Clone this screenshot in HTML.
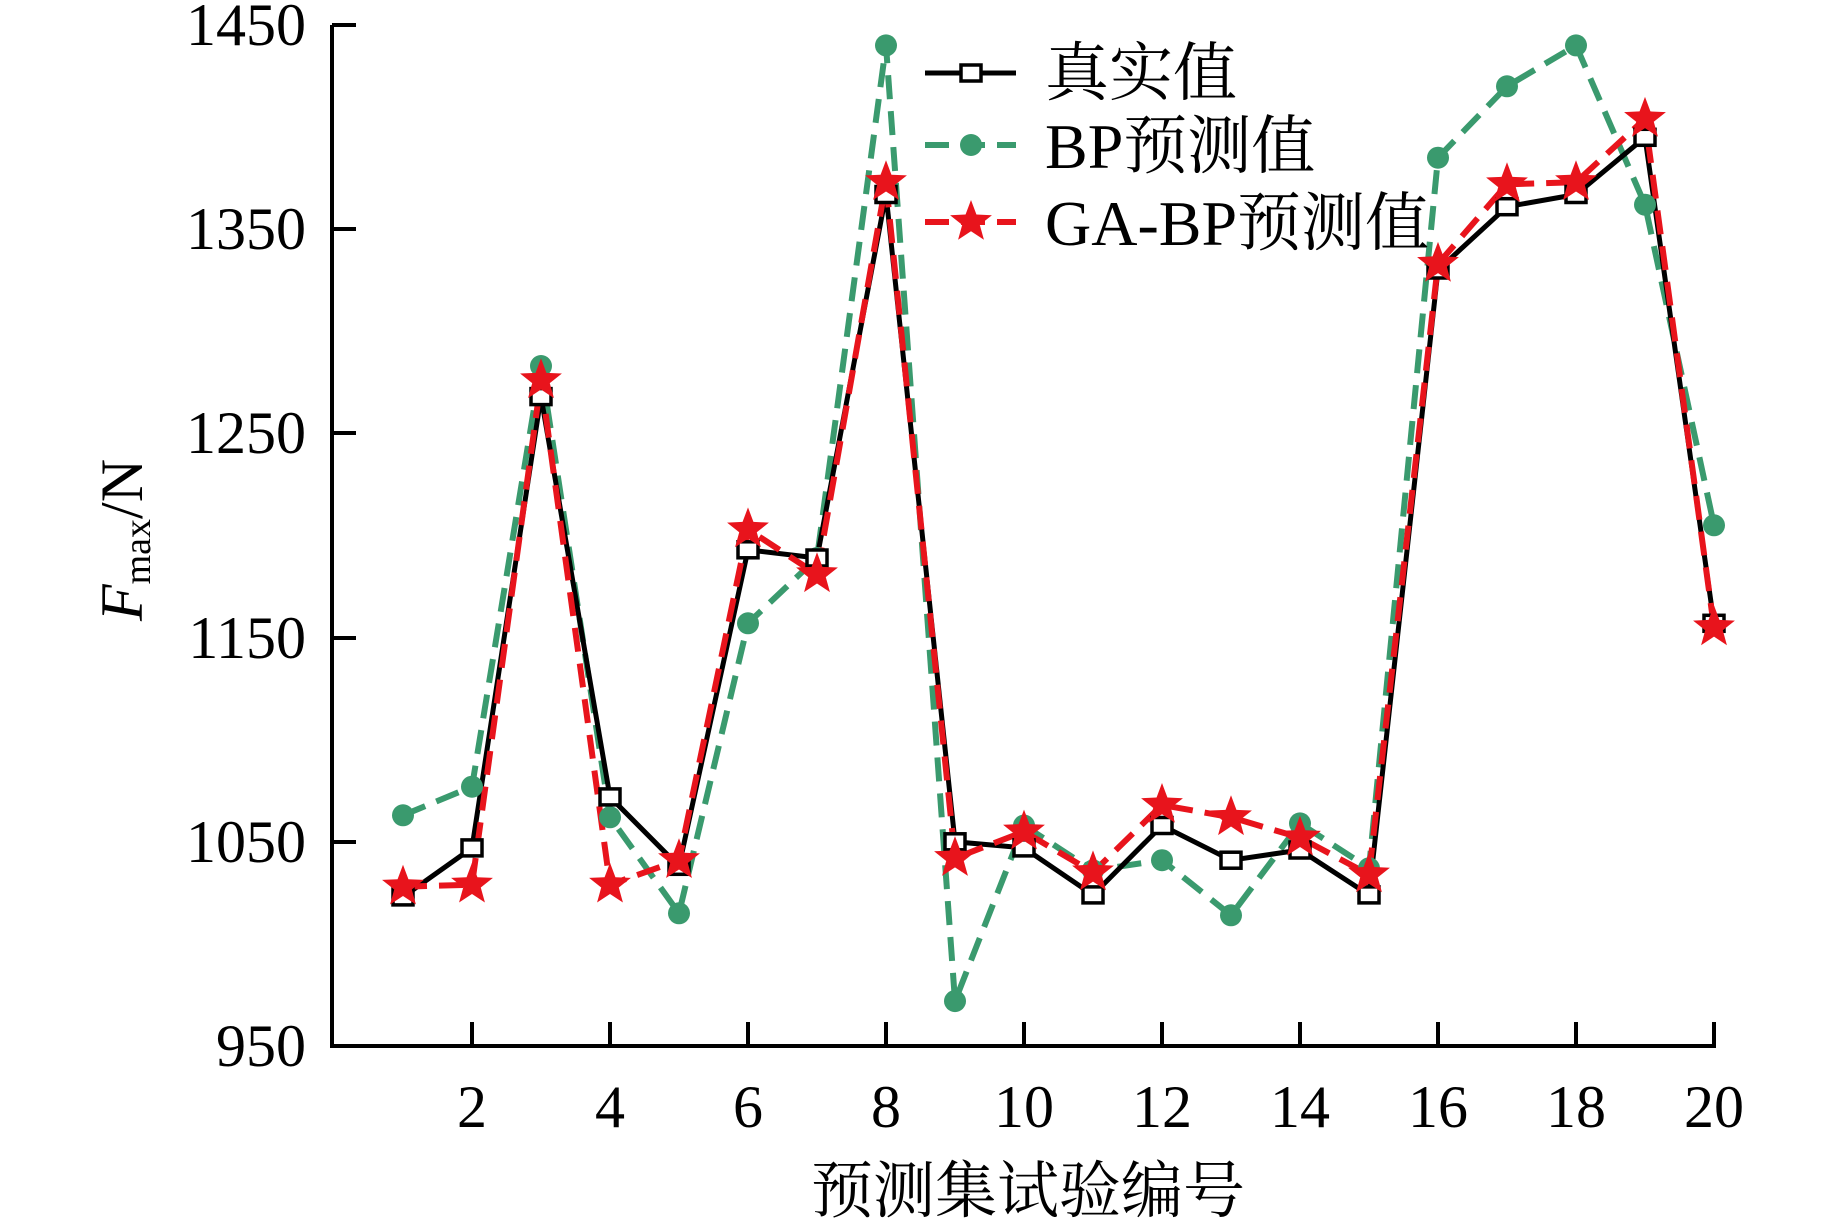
<!DOCTYPE html>
<html><head><meta charset="utf-8"><style>body{margin:0;background:#fff}svg{display:block}</style></head><body>
<svg width="1843" height="1219" viewBox="0 0 1843 1219" xmlns="http://www.w3.org/2000/svg" font-family="'Liberation Serif','Noto Serif CJK SC',serif">
<defs>
<polygon id="st" points="0,-22 5.43,-7.48 20.92,-6.8 8.79,2.86 12.93,17.8 0,9.24 -12.93,17.8 -8.79,2.86 -20.92,-6.8 -5.43,-7.48" fill="#e8141c"/>
<circle id="ci" r="11" fill="#3a9a6e"/>
<rect id="sq" x="-10" y="-8" width="20" height="16" fill="#fff" stroke="#000" stroke-width="3.5"/>
</defs>
<g stroke="#000" stroke-width="4" fill="none">
<path d="M332,25 V1046 H1716"/>
<path d="M332,25 H356 M332,229 H356 M332,433 H356 M332,638 H356 M332,842 H356"/>
<path d="M472,1046 V1022 M610,1046 V1022 M748,1046 V1022 M886,1046 V1022 M1024,1046 V1022 M1162,1046 V1022 M1300,1046 V1022 M1438,1046 V1022 M1576,1046 V1022 M1714,1046 V1022"/>
</g>
<g font-size="60" text-anchor="end" fill="#000">
<text x="306" y="45">1450</text><text x="306" y="249">1350</text><text x="306" y="453">1250</text><text x="306" y="658">1150</text><text x="306" y="862">1050</text><text x="306" y="1066">950</text>
</g>
<g font-size="60" text-anchor="middle" fill="#000">
<text x="472" y="1127">2</text><text x="610" y="1127">4</text><text x="748" y="1127">6</text><text x="886" y="1127">8</text><text x="1024" y="1127">10</text><text x="1162" y="1127">12</text><text x="1300" y="1127">14</text><text x="1438" y="1127">16</text><text x="1576" y="1127">18</text><text x="1714" y="1127">20</text>
</g>
<text x="1028" y="1212" font-size="62" text-anchor="middle">预测集试验编号</text>
<text transform="translate(142,540) rotate(-90)" font-size="60" text-anchor="middle"><tspan font-style="italic">F</tspan><tspan font-size="38" dy="8">max</tspan><tspan dy="-8">/N</tspan></text>

<polyline points="403,815.3 472,786.7 541,366 610,817.3 679,913.3 748,623.3 817,558 886,45.4 955,1001.1 1024,825.5 1093,870.4 1162,860.2 1231,915.3 1300,823.4 1369,868.3 1438,157.7 1507,86.3 1576,45.4 1645,204.7 1714,525.3" fill="none" stroke="#3a9a6e" stroke-width="6" stroke-dasharray="24,12"/>
<polyline points="403,896.9 472,847.9 541,396.6 610,796.9 679,866.3 748,549.8 817,558 886,194.5 955,841.8 1024,847.9 1093,894.9 1162,825.5 1231,860.2 1300,850 1369,894.9 1438,270 1507,206.7 1576,194.5 1645,137.3 1714,623.3" fill="none" stroke="#000" stroke-width="5"/>
<polyline points="403,886.7 472,884.7 541,380.3 610,884.7 679,860.2 748,529.4 817,574.3 886,182.2 955,858.1 1024,831.6 1093,872.4 1162,805 1231,817.3 1300,837.7 1369,874.5 1438,263.9 1507,184.3 1576,182.2 1645,118.9 1714,627.4" fill="none" stroke="#e8141c" stroke-width="6" stroke-dasharray="24,12"/>

<use href="#ci" x="403" y="815.3"/><use href="#ci" x="472" y="786.7"/><use href="#ci" x="541" y="366"/><use href="#ci" x="610" y="817.3"/><use href="#ci" x="679" y="913.3"/><use href="#ci" x="748" y="623.3"/><use href="#ci" x="817" y="558"/><use href="#ci" x="886" y="45.4"/><use href="#ci" x="955" y="1001.1"/><use href="#ci" x="1024" y="825.5"/><use href="#ci" x="1093" y="870.4"/><use href="#ci" x="1162" y="860.2"/><use href="#ci" x="1231" y="915.3"/><use href="#ci" x="1300" y="823.4"/><use href="#ci" x="1369" y="868.3"/><use href="#ci" x="1438" y="157.7"/><use href="#ci" x="1507" y="86.3"/><use href="#ci" x="1576" y="45.4"/><use href="#ci" x="1645" y="204.7"/><use href="#ci" x="1714" y="525.3"/>

<use href="#sq" x="403" y="896.9"/><use href="#sq" x="472" y="847.9"/><use href="#sq" x="541" y="396.6"/><use href="#sq" x="610" y="796.9"/><use href="#sq" x="679" y="866.3"/><use href="#sq" x="748" y="549.8"/><use href="#sq" x="817" y="558"/><use href="#sq" x="886" y="194.5"/><use href="#sq" x="955" y="841.8"/><use href="#sq" x="1024" y="847.9"/><use href="#sq" x="1093" y="894.9"/><use href="#sq" x="1162" y="825.5"/><use href="#sq" x="1231" y="860.2"/><use href="#sq" x="1300" y="850"/><use href="#sq" x="1369" y="894.9"/><use href="#sq" x="1438" y="270"/><use href="#sq" x="1507" y="206.7"/><use href="#sq" x="1576" y="194.5"/><use href="#sq" x="1645" y="137.3"/><use href="#sq" x="1714" y="623.3"/>

<use href="#st" x="403" y="886.7"/><use href="#st" x="472" y="884.7"/><use href="#st" x="541" y="380.3"/><use href="#st" x="610" y="884.7"/><use href="#st" x="679" y="860.2"/><use href="#st" x="748" y="529.4"/><use href="#st" x="817" y="574.3"/><use href="#st" x="886" y="182.2"/><use href="#st" x="955" y="858.1"/><use href="#st" x="1024" y="831.6"/><use href="#st" x="1093" y="872.4"/><use href="#st" x="1162" y="805"/><use href="#st" x="1231" y="817.3"/><use href="#st" x="1300" y="837.7"/><use href="#st" x="1369" y="874.5"/><use href="#st" x="1438" y="263.9"/><use href="#st" x="1507" y="184.3"/><use href="#st" x="1576" y="182.2"/><use href="#st" x="1645" y="118.9"/><use href="#st" x="1714" y="627.4"/>

<line x1="925" y1="73" x2="1016" y2="73" stroke="#000" stroke-width="5"/><use href="#sq" x="971" y="73"/>
<line x1="925" y1="145" x2="1016" y2="145" stroke="#3a9a6e" stroke-width="6" stroke-dasharray="24,12"/><use href="#ci" x="971" y="145"/>
<line x1="925" y1="222" x2="1016" y2="222" stroke="#e8141c" stroke-width="6" stroke-dasharray="24,12"/><use href="#st" x="971" y="222"/>

<g font-size="64" fill="#000">
<text x="1045" y="95">真实值</text><text x="1045" y="168">BP预测值</text><text x="1045" y="245">GA-BP预测值</text>
</g>
</svg>
</body></html>
